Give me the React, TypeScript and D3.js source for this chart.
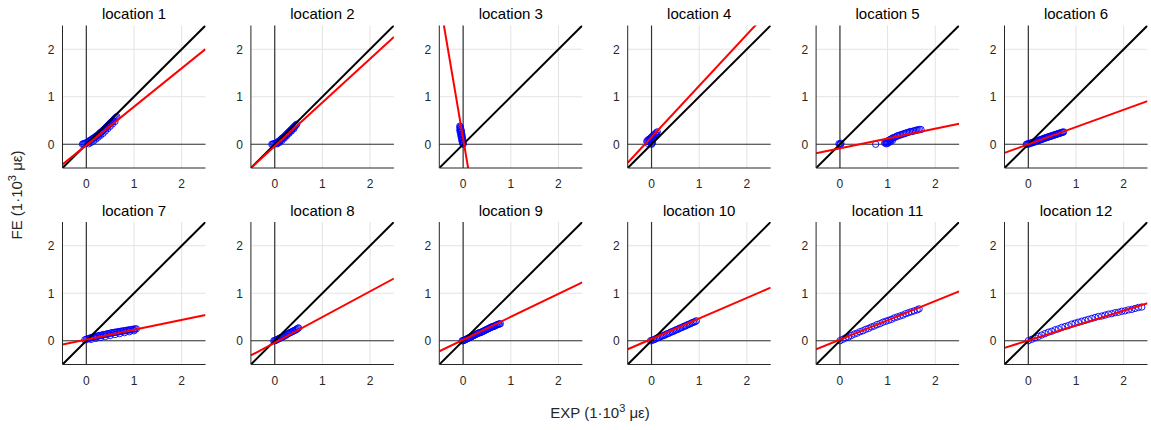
import React from "react";
import * as d3 from "d3";

const titles = ["location 1","location 2","location 3","location 4","location 5","location 6","location 7","location 8","location 9","location 10","location 11","location 12"];
const ticks = [0, 1, 2];
const domain: [number, number] = [-0.5, 2.5];

const slopes = [0.81, 0.92, -5.9, 1.08, 0.207, 0.363, 0.207, 0.54, 0.483, 0.433, 0.407, 0.313];
const intercepts = [-0.02, -0.04, 0.12, 0.15, -0.087, 0.0, 0.023, -0.04, 0.02, 0.037, 0.023, 0.007];

const exp1 = [-0.08,-0.06,-0.04,-0.02,0,0.02,0.04,0.06,0.08,0.1,0.12,0.14,0.16,0.18,0.2,0.22,0.24,0.26,0.28,0.3,0.32,0.34,0.36,0.38,0.4,0.42,0.44,0.46,0.48,0.5,0.52,0.54,0.56,0.58,0.6,0.62,0.64,0.05,0.1,0.15,0.2,0.25,0.3,0.35,0.4,0.45,0.5,0.55,0.6];
const fe1 = [0,0.01,0.01,0.02,0.03,0.04,0.05,0.07,0.08,0.09,0.11,0.12,0.13,0.15,0.16,0.18,0.19,0.21,0.23,0.25,0.26,0.28,0.3,0.32,0.34,0.36,0.38,0.4,0.42,0.44,0.46,0.48,0.5,0.52,0.54,0.56,0.58,0.01,0.04,0.07,0.11,0.15,0.19,0.23,0.28,0.33,0.38,0.43,0.48];
const exp2 = [-0.06,-0.04,-0.02,0,0.02,0.04,0.06,0.08,0.1,0.12,0.14,0.16,0.18,0.2,0.22,0.24,0.26,0.28,0.3,0.32,0.34,0.36,0.38,0.4,0.42,0.44,0.46,0.05,0.1,0.15,0.2,0.25,0.3,0.35,0.4];
const fe2 = [0,0,0.01,0.01,0.02,0.03,0.04,0.06,0.07,0.09,0.11,0.13,0.14,0.16,0.18,0.2,0.22,0.24,0.26,0.28,0.3,0.32,0.34,0.36,0.38,0.4,0.42,0.01,0.04,0.08,0.13,0.18,0.23,0.28,0.33];
const exp3 = [-0.07,-0.06,-0.05,-0.04,-0.03,-0.02,-0.01,0,-0.07,-0.06,-0.05,-0.04,-0.03,-0.02,-0.01,0,-0.06,-0.05,-0.04,-0.03,-0.02,-0.01];
const fe3 = [0.38,0.34,0.3,0.26,0.2,0.14,0.08,0.02,0.3,0.25,0.2,0.15,0.1,0.06,0.03,0.0,0.36,0.32,0.28,0.22,0.16,0.1];
const exp4 = [-0.1,-0.08,-0.06,-0.04,-0.02,0,0.02,0.04,0.06,0.08,0.1,0.12,-0.08,-0.05,-0.02,0.01,0.04,0.07,0.1,0,0.01,0.02];
const fe4 = [0.06,0.08,0.1,0.11,0.13,0.15,0.17,0.19,0.2,0.22,0.24,0.26,0.02,0.05,0.08,0.1,0.13,0.16,0.19,0,0.02,0.04];
const exp5 = [0,0.02,-0.02,0.01,0.75,0.94,0.96,0.98,1.0,1.02,1.04,1.06,1.08,1.1,1.13,1.16,1.19,1.22,1.25,1.28,1.31,1.34,1.37,1.4,1.43,1.46,1.49,1.52,1.55,1.58,1.61,1.64,1.67,1.7,0.97,1.0,1.03,1.06,1.1];
const fe5 = [0,0.02,0.01,-0.01,0,0.03,0.04,0.05,0.06,0.08,0.09,0.1,0.11,0.13,0.14,0.15,0.17,0.18,0.19,0.2,0.21,0.22,0.23,0.24,0.25,0.26,0.27,0.27,0.28,0.29,0.3,0.3,0.31,0.31,0.01,0.02,0.04,0.06,0.08];
const exp6 = [-0.04,-0.02,0,0.02,0.04,0.06,0.08,0.1,0.12,0.14,0.16,0.18,0.2,0.22,0.24,0.26,0.28,0.3,0.32,0.34,0.36,0.38,0.4,0.42,0.44,0.46,0.48,0.5,0.52,0.54,0.56,0.58,0.6,0.62,0.64,0.66,0.68,0.7,0.72,0.74];
const fe6 = [0,0,0.01,0.01,0.02,0.03,0.03,0.04,0.05,0.05,0.06,0.07,0.08,0.08,0.09,0.1,0.1,0.11,0.12,0.13,0.13,0.14,0.15,0.15,0.16,0.17,0.17,0.18,0.19,0.19,0.2,0.21,0.21,0.22,0.23,0.23,0.24,0.25,0.25,0.26];
const exp7 = [-0.03,0,0.03,0.06,0.09,0.12,0.15,0.18,0.21,0.24,0.27,0.3,0.33,0.36,0.39,0.42,0.45,0.48,0.51,0.54,0.57,0.6,0.63,0.66,0.69,0.72,0.75,0.78,0.81,0.84,0.87,0.9,0.93,0.96,0.99,1.02,1.05,0.1,0.2,0.3,0.4,0.5,0.6,0.7,0.8,0.9,1.0];
const fe7 = [0.02,0.03,0.04,0.05,0.06,0.07,0.08,0.08,0.09,0.1,0.11,0.11,0.12,0.13,0.13,0.14,0.15,0.15,0.16,0.17,0.17,0.18,0.18,0.19,0.19,0.2,0.2,0.21,0.21,0.22,0.22,0.23,0.23,0.24,0.24,0.25,0.25,0.03,0.05,0.07,0.09,0.11,0.13,0.15,0.17,0.19,0.21];
const exp8 = [-0.02,0,0.02,0.04,0.06,0.08,0.1,0.12,0.14,0.16,0.18,0.2,0.22,0.24,0.26,0.28,0.3,0.32,0.34,0.36,0.38,0.4,0.42,0.44,0.46,0.48,0.5];
const fe8 = [0,0,0.01,0.02,0.03,0.04,0.05,0.06,0.07,0.08,0.09,0.1,0.11,0.12,0.14,0.15,0.16,0.17,0.18,0.19,0.2,0.21,0.22,0.23,0.24,0.26,0.27];
const exp9 = [-0.02,0,0.02,0.04,0.06,0.08,0.1,0.12,0.14,0.16,0.18,0.2,0.22,0.24,0.26,0.28,0.3,0.32,0.34,0.36,0.38,0.4,0.42,0.44,0.46,0.48,0.5,0.52,0.54,0.56,0.58,0.6,0.62,0.64,0.66,0.68,0.7,0.72,0.74,0.76,0.78];
const fe9 = [0,0,0.01,0.02,0.03,0.04,0.05,0.06,0.07,0.08,0.09,0.1,0.11,0.12,0.13,0.14,0.15,0.16,0.17,0.17,0.18,0.19,0.2,0.21,0.22,0.23,0.24,0.25,0.26,0.27,0.28,0.29,0.3,0.3,0.31,0.32,0.33,0.34,0.35,0.35,0.36];
const exp10 = [-0.02,0.01,0.04,0.07,0.1,0.13,0.16,0.19,0.22,0.25,0.28,0.31,0.34,0.37,0.4,0.43,0.46,0.49,0.52,0.55,0.58,0.61,0.64,0.67,0.7,0.73,0.76,0.79,0.82,0.85,0.88,0.91,0.94];
const fe10 = [0,0.01,0.02,0.03,0.05,0.06,0.07,0.09,0.1,0.11,0.12,0.14,0.15,0.16,0.18,0.19,0.2,0.22,0.23,0.24,0.26,0.27,0.28,0.3,0.31,0.32,0.34,0.35,0.36,0.38,0.39,0.4,0.42];
const exp11 = [0,0.06,0.12,0.18,0.24,0.3,0.36,0.42,0.48,0.54,0.6,0.66,0.72,0.78,0.84,0.9,0.96,1.02,1.08,1.14,1.2,1.26,1.32,1.38,1.44,1.5,1.56,1.62,1.66];
const fe11 = [0,0.03,0.06,0.08,0.11,0.14,0.16,0.19,0.21,0.24,0.26,0.29,0.31,0.34,0.36,0.39,0.41,0.43,0.45,0.48,0.5,0.52,0.54,0.57,0.59,0.61,0.63,0.65,0.67];
const exp12 = [0,0.07,0.14,0.21,0.28,0.35,0.42,0.49,0.56,0.63,0.7,0.77,0.84,0.91,0.98,1.05,1.12,1.19,1.26,1.33,1.4,1.47,1.54,1.61,1.68,1.75,1.82,1.89,1.96,2.03,2.1,2.17,2.24,2.31,2.38];
const fe12 = [0,0.03,0.06,0.09,0.12,0.15,0.18,0.2,0.23,0.25,0.28,0.3,0.32,0.35,0.37,0.39,0.41,0.43,0.45,0.47,0.49,0.51,0.52,0.54,0.56,0.57,0.59,0.6,0.62,0.63,0.65,0.66,0.68,0.7,0.71];

const expSeries = [exp1, exp2, exp3, exp4, exp5, exp6, exp7, exp8, exp9, exp10, exp11, exp12];
const feSeries = [fe1, fe2, fe3, fe4, fe5, fe6, fe7, fe8, fe9, fe10, fe11, fe12];

const W = 1151, H = 430;
const FONT = "'Liberation Sans', Arial, Helvetica, sans-serif";
const AX = "#262626";

const panelLeft0 = 62.5, panelStep = 188.4, panelW = 143;
const rowTops = [25.5, 222];
const panelH = 142.5;

function Panel({ i }: { i: number }) {
  const col = i % 6, row = Math.floor(i / 6);
  const x0 = panelLeft0 + col * panelStep;
  const y0 = rowTops[row];
  const x = d3.scaleLinear().domain(domain).range([x0, x0 + panelW]);
  const y = d3.scaleLinear().domain(domain).range([y0 + panelH, y0]);
  const line = d3.line<[number, number]>().x(d => x(d[0])).y(d => y(d[1]));
  const m = slopes[i], b = intercepts[i];
  const fitPts: [number, number][] = domain.map(v => [v, m * v + b]) as [number, number][];
  const idPts: [number, number][] = domain.map(v => [v, v]) as [number, number][];
  const clipId = `clip${i}`;
  const ex = expSeries[i], fe = feSeries[i];
  const pts = ex.map((v, k) => [v, fe[k]]).filter(p => p[1] !== undefined);
  return (
    <g>
      <defs>
        <clipPath id={clipId}>
          <rect x={x0} y={y0} width={panelW} height={panelH} />
        </clipPath>
      </defs>
      {ticks.map(t => (
        <line key={"gx" + t} x1={x(t)} x2={x(t)} y1={y0} y2={y0 + panelH} stroke="#e3e3e3" strokeWidth={1} />
      ))}
      {ticks.map(t => (
        <line key={"gy" + t} x1={x0} x2={x0 + panelW} y1={y(t)} y2={y(t)} stroke="#e3e3e3" strokeWidth={1} />
      ))}
      <line x1={x(0)} x2={x(0)} y1={y0} y2={y0 + panelH} stroke="#333" strokeWidth={1.2} />
      <line x1={x0} x2={x0 + panelW} y1={y(0)} y2={y(0)} stroke="#333" strokeWidth={1.2} />
      <g clipPath={`url(#${clipId})`}>
        {pts.map((p, k) => (
          <circle key={k} cx={x(p[0])} cy={y(p[1])} r={3.2} fill="none" stroke="#0000ff" strokeWidth={0.9} />
        ))}
        <path d={line(idPts) || ""} stroke="#000" strokeWidth={2} fill="none" />
        <path d={line(fitPts) || ""} stroke="#ff0000" strokeWidth={2} fill="none" />
      </g>
      <line x1={x0} x2={x0} y1={y0} y2={y0 + panelH} stroke={AX} strokeWidth={1} />
      <line x1={x0} x2={x0 + panelW} y1={y0 + panelH} y2={y0 + panelH} stroke={AX} strokeWidth={1} />
      {ticks.map(t => (
        <text key={"tx" + t} x={x(t)} y={y0 + panelH + 20} textAnchor="middle" fontSize={12} fill={AX} fontFamily={FONT}>{t}</text>
      ))}
      {ticks.map(t => (
        <text key={"ty" + t} x={x0 - 8} y={y(t) + 4.3} textAnchor="end" fontSize={12} fill={AX} fontFamily={FONT}>{t}</text>
      ))}
      <text x={x0 + panelW / 2} y={y0 - 6.5} textAnchor="middle" fontSize={15} fill="#000" fontFamily={FONT}>{titles[i]}</text>
    </g>
  );
}

export default function App() {
  return (
    <svg width={W} height={H} style={{ position: "absolute", left: 0, top: 0, display: "block", background: "#fff" }}>
      <rect x={0} y={0} width={W} height={H} fill="#fff" />
      {titles.map((_, i) => <Panel key={i} i={i} />)}
      <text x={600} y={418} textAnchor="middle" fontSize={15} fill={AX} fontFamily={FONT}>
        EXP (1·10<tspan dy={-6} fontSize={11}>3</tspan><tspan dy={6}> με)</tspan>
      </text>
      <text transform="translate(22,195) rotate(-90)" textAnchor="middle" fontSize={15} fill={AX} fontFamily={FONT}>
        FE (1·10<tspan dy={-6} fontSize={11}>3</tspan><tspan dy={6}> με)</tspan>
      </text>
    </svg>
  );
}
